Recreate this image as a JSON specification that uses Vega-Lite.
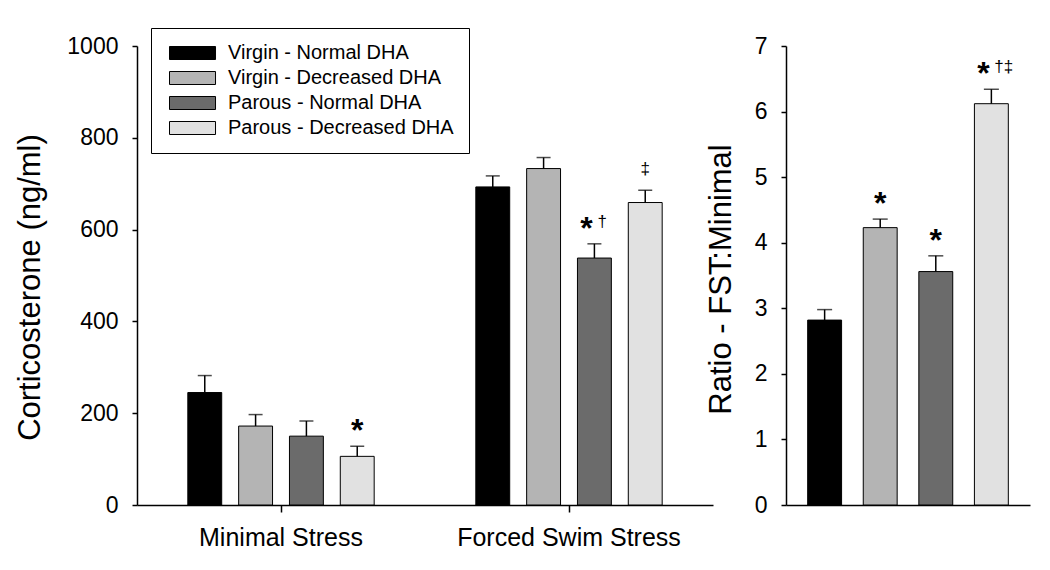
{
  "$schema": "https://vega.github.io/schema/vega-lite/v6.json",
  "autosize": {"type": "pad"},
  "padding": {"left": 14, "top": 27, "right": 20, "bottom": 15},
  "background": "white",
  "config": {
    "font": "Liberation Sans",
    "view": {"stroke": null},
    "axis": {
      "labelFont": "Liberation Sans",
      "titleFont": "Liberation Sans",
      "labelColor": "black",
      "titleColor": "black",
      "domainColor": "black",
      "tickColor": "black",
      "grid": false,
      "titleFontWeight": "normal",
      "domainWidth": 1.5,
      "tickWidth": 1.5,
      "labelLimit": 0
    },
    "legend": {"labelLimit": 0}
  },
  "datasets": {
    "cort": [
      {"stress": "Minimal Stress", "group": "Virgin - Normal DHA", "mean": 245, "upper": 282, "star": "", "dag": ""},
      {"stress": "Minimal Stress", "group": "Virgin - Decreased DHA", "mean": 172, "upper": 197, "star": "", "dag": ""},
      {"stress": "Minimal Stress", "group": "Parous - Normal DHA", "mean": 150, "upper": 183, "star": "", "dag": ""},
      {"stress": "Minimal Stress", "group": "Parous - Decreased DHA", "mean": 106, "upper": 128, "star": "*", "dag": ""},
      {"stress": "Forced Swim Stress", "group": "Virgin - Normal DHA", "mean": 693, "upper": 717, "star": "", "dag": ""},
      {"stress": "Forced Swim Stress", "group": "Virgin - Decreased DHA", "mean": 733, "upper": 757, "star": "", "dag": ""},
      {"stress": "Forced Swim Stress", "group": "Parous - Normal DHA", "mean": 538, "upper": 569, "star": "*", "dag": "†"},
      {"stress": "Forced Swim Stress", "group": "Parous - Decreased DHA", "mean": 659, "upper": 686, "star": "", "dag": "‡"}
    ],
    "ratio": [
      {"group": "Virgin - Normal DHA", "mean": 2.82, "upper": 2.98, "star": "", "dag": ""},
      {"group": "Virgin - Decreased DHA", "mean": 4.23, "upper": 4.36, "star": "*", "dag": ""},
      {"group": "Parous - Normal DHA", "mean": 3.56, "upper": 3.8, "star": "*", "dag": ""},
      {"group": "Parous - Decreased DHA", "mean": 6.12, "upper": 6.34, "star": "*", "dag": "†‡"}
    ]
  },
  "spacing": 73,
  "bounds": "flush",
  "hconcat": [
    {
      "width": 576,
      "height": 459,
      "data": {"name": "cort"},
      "encoding": {
        "x": {
          "field": "stress", "type": "nominal",
          "sort": ["Minimal Stress", "Forced Swim Stress"],
          "scale": {"paddingInner": 0, "paddingOuter": 0},
          "axis": {"title": null, "labelAngle": 0, "labelFontSize": 25, "labelPadding": 13, "tickSize": 7}
        },
        "xOffset": {
          "field": "group", "type": "nominal",
          "sort": ["Virgin - Normal DHA", "Virgin - Decreased DHA", "Parous - Normal DHA", "Parous - Decreased DHA"],
          "scale": {"paddingInner": 0.333, "paddingOuter": 1.167}
        }
      },
      "layer": [
        {
          "mark": {"type": "bar", "stroke": "black", "strokeWidth": 1},
          "encoding": {
            "y": {
              "field": "mean", "type": "quantitative",
              "scale": {"domain": [0, 1000]},
              "axis": {"values": [0, 200, 400, 600, 800, 1000], "format": "d", "title": "Corticosterone (ng/ml)", "titleFontSize": 31, "labelFontSize": 23, "tickSize": 5, "labelPadding": 14, "titlePadding": 20, "titleY": 241}
            },
            "color": {
              "field": "group", "type": "nominal",
              "scale": {
                "domain": ["Virgin - Normal DHA", "Virgin - Decreased DHA", "Parous - Normal DHA", "Parous - Decreased DHA"],
                "range": ["#000000", "#b4b4b4", "#6b6b6b", "#e1e1e1"]
              },
              "legend": {
                "orient": "none", "legendX": 14, "legendY": -18,
                "title": null,
                "symbolType": "M-1,-1H6.08V1H-1Z",
                "symbolSize": 169,
                "symbolStrokeColor": "black",
                "symbolStrokeWidth": 1,
                "symbolOpacity": 1,
                "labelFontSize": 20,
                "labelFont": "Liberation Sans",
                "labelColor": "black",
                "labelOffset": 42,
                "labelLimit": 0,
                "rowPadding": 5,
                "padding": 15,
                "strokeColor": "black",
                "fillColor": "white"
              }
            }
          }
        },
        {
          "mark": {"type": "rule", "color": "black", "strokeWidth": 1.5},
          "encoding": {
            "y": {"field": "mean", "type": "quantitative"},
            "y2": {"field": "upper"}
          }
        },
        {
          "mark": {"type": "tick", "color": "black", "thickness": 1.5, "size": 14},
          "encoding": {"y": {"field": "upper", "type": "quantitative"}}
        },
        {
          "transform": [{"filter": "datum.star != '' && datum.dag == ''"}],
          "mark": {"type": "text", "color": "black", "font": "Liberation Sans", "fontSize": 32, "fontWeight": "bold", "baseline": "alphabetic", "align": "center", "dy": -5},
          "encoding": {"y": {"field": "upper", "type": "quantitative"}, "text": {"field": "star"}}
        },
        {
          "transform": [{"filter": "datum.star != '' && datum.dag != ''"}],
          "mark": {"type": "text", "color": "black", "font": "Liberation Sans", "fontSize": 32, "fontWeight": "bold", "baseline": "alphabetic", "align": "center", "dx": -8, "dy": -5},
          "encoding": {"y": {"field": "upper", "type": "quantitative"}, "text": {"field": "star"}}
        },
        {
          "transform": [{"filter": "datum.dag != '' && datum.star == ''"}],
          "mark": {"type": "text", "color": "black", "font": "Liberation Sans", "fontSize": 17, "baseline": "alphabetic", "align": "center", "dy": -16},
          "encoding": {"y": {"field": "upper", "type": "quantitative"}, "text": {"field": "dag"}}
        },
        {
          "transform": [{"filter": "datum.dag != '' && datum.star != ''"}],
          "mark": {"type": "text", "color": "black", "font": "Liberation Sans", "fontSize": 17, "baseline": "alphabetic", "align": "left", "dx": 3, "dy": -17},
          "encoding": {"y": {"field": "upper", "type": "quantitative"}, "text": {"field": "dag"}}
        }
      ]
    },
    {
      "width": 244,
      "height": 459,
      "data": {"name": "ratio"},
      "encoding": {
        "x": {
          "field": "group", "type": "nominal",
          "sort": ["Virgin - Normal DHA", "Virgin - Decreased DHA", "Parous - Normal DHA", "Parous - Decreased DHA"],
          "scale": {"paddingInner": 0.39, "paddingOuter": 0.39},
          "axis": {"title": null, "labels": false, "ticks": false}
        }
      },
      "layer": [
        {
          "mark": {"type": "bar", "stroke": "black", "strokeWidth": 1},
          "encoding": {
            "y": {
              "field": "mean", "type": "quantitative",
              "scale": {"domain": [0, 7]},
              "axis": {"values": [0, 1, 2, 3, 4, 5, 6, 7], "format": "d", "title": "Ratio - FST:Minimal", "titleFontSize": 31, "labelFontSize": 23, "tickSize": 5, "labelPadding": 14, "titlePadding": 17, "titleY": 233}
            },
            "color": {"field": "group", "type": "nominal", "legend": null}
          }
        },
        {
          "mark": {"type": "rule", "color": "black", "strokeWidth": 1.5},
          "encoding": {
            "y": {"field": "mean", "type": "quantitative"},
            "y2": {"field": "upper"}
          }
        },
        {
          "mark": {"type": "tick", "color": "black", "thickness": 1.5, "size": 15},
          "encoding": {"y": {"field": "upper", "type": "quantitative"}}
        },
        {
          "transform": [{"filter": "datum.star != '' && datum.dag == ''"}],
          "mark": {"type": "text", "color": "black", "font": "Liberation Sans", "fontSize": 32, "fontWeight": "bold", "baseline": "alphabetic", "align": "center", "dy": -5},
          "encoding": {"y": {"field": "upper", "type": "quantitative"}, "text": {"field": "star"}}
        },
        {
          "transform": [{"filter": "datum.star != '' && datum.dag != ''"}],
          "mark": {"type": "text", "color": "black", "font": "Liberation Sans", "fontSize": 32, "fontWeight": "bold", "baseline": "alphabetic", "align": "center", "dx": -8, "dy": -5},
          "encoding": {"y": {"field": "upper", "type": "quantitative"}, "text": {"field": "star"}}
        },
        {
          "transform": [{"filter": "datum.dag != '' && datum.star != ''"}],
          "mark": {"type": "text", "color": "black", "font": "Liberation Sans", "fontSize": 17, "baseline": "alphabetic", "align": "left", "dx": 3, "dy": -17},
          "encoding": {"y": {"field": "upper", "type": "quantitative"}, "text": {"field": "dag"}}
        }
      ]
    }
  ]
}
